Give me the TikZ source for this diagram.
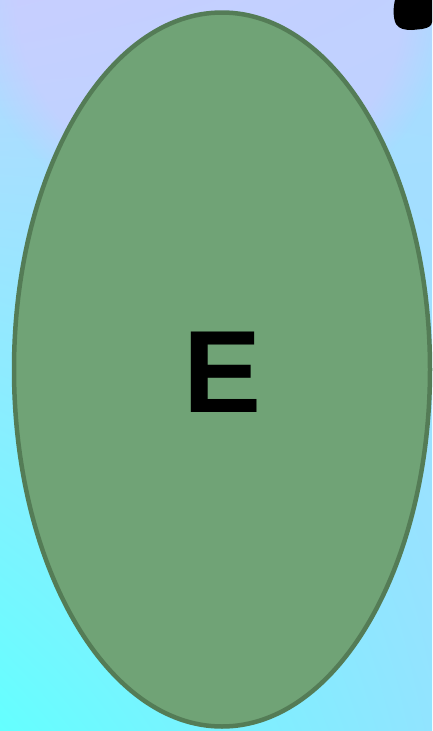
\documentclass[tikz,border=0pt]{standalone}
\usepackage{fontspec}
\setmainfont{Liberation Sans}
\usetikzlibrary{shadings,fadings,shapes.geometric}
\begin{document}
\begin{tikzpicture}[x=1pt,y=-1pt,
  blob/.style={ellipse, draw=ellipseline, fill=ellipsefill, line width=4.5pt, minimum width=416pt, minimum height=714pt, inner sep=0pt},
  lbl/.style={font=\fontsize{117}{117}\selectfont\bfseries, text=black}]
\definecolor{ellipsefill}{RGB}{112,163,118}
\definecolor{ellipseline}{RGB}{84,124,86}
\definecolor{bgtl}{RGB}{185,215,255}
\definecolor{bgtr}{RGB}{170,220,255}
\definecolor{bgbl}{RGB}{100,255,255}
\definecolor{bgbr}{RGB}{145,228,255}
\definecolor{lav}{RGB}{212,200,255}
\useasboundingbox (0,0) rectangle (432,731);
\shade[upper left=bgtl, upper right=bgtr, lower left=bgbl, lower right=bgbr] (0,0) rectangle (432,731);
\begin{scope}
\clip (0,0) rectangle (432,731);
\fill[lav, path fading=circle with fuzzy edge 20 percent, fill opacity=0.55] (210,0) ellipse (240 and 230);
\end{scope}
\fill[black] (395,0) .. controls (393,8) and (393,18) .. (396,24) .. controls (399,29) and (405,30) .. (412,30) -- (422,29) .. controls (428,28) and (432,26) .. (432,22) -- (432,0) -- cycle;
\node[blob] (e) at (222,369.5) {};
\node[lbl] (elabel) at (223,372) {E};
\end{tikzpicture}
\end{document}
